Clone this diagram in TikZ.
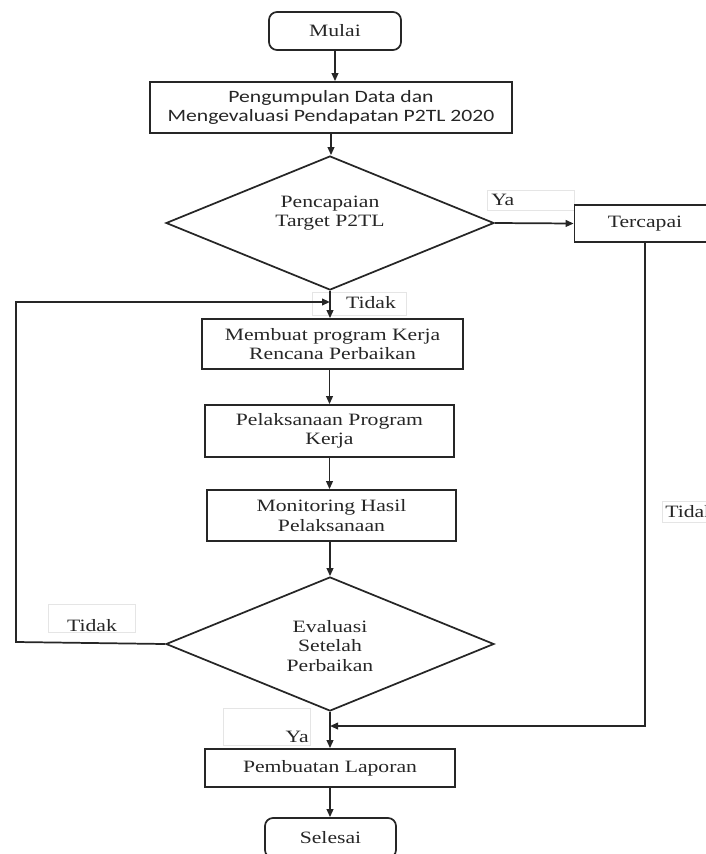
\documentclass[tikz,border=0pt]{standalone}
\usepackage{fontspec}
\setmainfont{Liberation Serif}[FakeStretch=1.25]
\newfontfamily\calib{Carlito}[FakeStretch=1.25]
\usetikzlibrary{shapes.geometric,arrows.meta}
\begin{document}
\begin{tikzpicture}[x=0.75pt,y=-0.75pt,
  every node/.style={font=\fontsize{13}{14.4}\selectfont, text=black!85},
  box/.style={draw=black!85, line width=1.3pt, align=center, inner sep=0pt},
  rbox/.style={box, rounded corners=6pt},
  dia/.style={draw=black!85, line width=1.3pt, diamond, inner sep=0pt, minimum width=246pt, minimum height=100.5pt},
  lbl/.style={draw=black!10, line width=0.6pt, inner sep=0pt},
  txt/.style={align=center, inner sep=0pt},
  arr/.style={draw=black!85, line width=1.3pt, -{Triangle[length=6pt,width=5pt]}},
  ln/.style={draw=black!85, line width=1.3pt}]
\useasboundingbox (0,0) rectangle (706,854);
\clip (0,0) rectangle (706,854);

% label boxes (faint)
\node[lbl, minimum width=65.25pt, minimum height=15pt] (yab1) at (530.5,200) {};
\node[lbl, minimum width=70.5pt, minimum height=17.25pt] (tdb1) at (359,303.5) {};
\node[lbl, minimum width=65.25pt, minimum height=21pt] (tdb2) at (91.5,618) {};
\node[lbl, minimum width=45pt, minimum height=15.75pt] (tdb3) at (692,511.5) {};
\node[lbl, minimum width=65.25pt, minimum height=27.75pt] (yab2) at (266.5,726.5) {};

% main nodes
\node[rbox, minimum width=99pt, minimum height=28.5pt] (mulai) at (335,31) {Mulai};
\node[box, minimum width=271.5pt, minimum height=38.25pt, font=\calib\fontsize{13}{14.4}\selectfont] (kumpul) at (331,107.5) {Pengumpulan Data dan\\Mengevaluasi Pendapatan P2TL 2020};
\node[dia] (d1) at (330,223) {};
\node[txt] (d1t) at (330,213) {Pencapaian\\Target P2TL};
\node[box, minimum width=105.75pt, minimum height=27.75pt] (terc) at (645,223.5) {Tercapai};
\node[box, minimum width=195.75pt, minimum height=37.5pt] (buat) at (332.5,344) {Membuat program Kerja\\Rencana Perbaikan};
\node[box, minimum width=186.75pt, minimum height=39pt] (laksana) at (329.5,431) {Pelaksanaan Program\\Kerja};
\node[box, minimum width=186.75pt, minimum height=38.25pt] (monitor) at (331.5,515.5) {Monitoring Hasil\\Pelaksanaan};
\node[dia, minimum height=100.5pt] (d2) at (330,644) {};
\node[txt] (d2t) at (330,646) {Evaluasi\\Setelah\\Perbaikan};
\node[box, minimum width=187.5pt, minimum height=28.5pt] (lapor) at (330,768) {Pembuatan Laporan};
\node[rbox, minimum width=98.25pt, minimum height=30pt] (selesai) at (330.5,838) {Selesai};

% labels
\node[txt, anchor=west] (ya1) at (491,200) {Ya};
\node[txt] (td1) at (371,303) {Tidak};
\node[txt] (td2) at (92,626) {Tidak};
\node[txt, anchor=west] (td3) at (665,512) {Tidak};
\node[txt, anchor=east] (ya2) at (309,737) {Ya};

% helper coordinates
\coordinate (join1) at (330,302);
\coordinate (join2) at (330,726);
\coordinate (lc) at (16,642);

% connectors
\draw[arr] (mulai.south) -- (mulai.south |- kumpul.north);
\draw[arr] (kumpul.south) -- (kumpul.south |- d1.north);
\draw[arr] (d1.east) -- (terc.west);
\draw[arr] (d1.south) -- (buat.north -| d1.south);
\draw[arr] (buat.south -| laksana.north) -- (laksana.north);
\draw[arr] (laksana.south) -- (laksana.south |- monitor.north);
\draw[arr] (monitor.south -| d2.north) -- (d2.north);
\draw[arr] (d2.south) -- (lapor.north -| d2.south);
\draw[arr] (lapor.south) -- (lapor.south |- selesai.north);
\draw[arr] (d2.west) -- (lc) |- (join1);
\draw[arr] (terc.south) |- (join2);
\end{tikzpicture}
\end{document}
